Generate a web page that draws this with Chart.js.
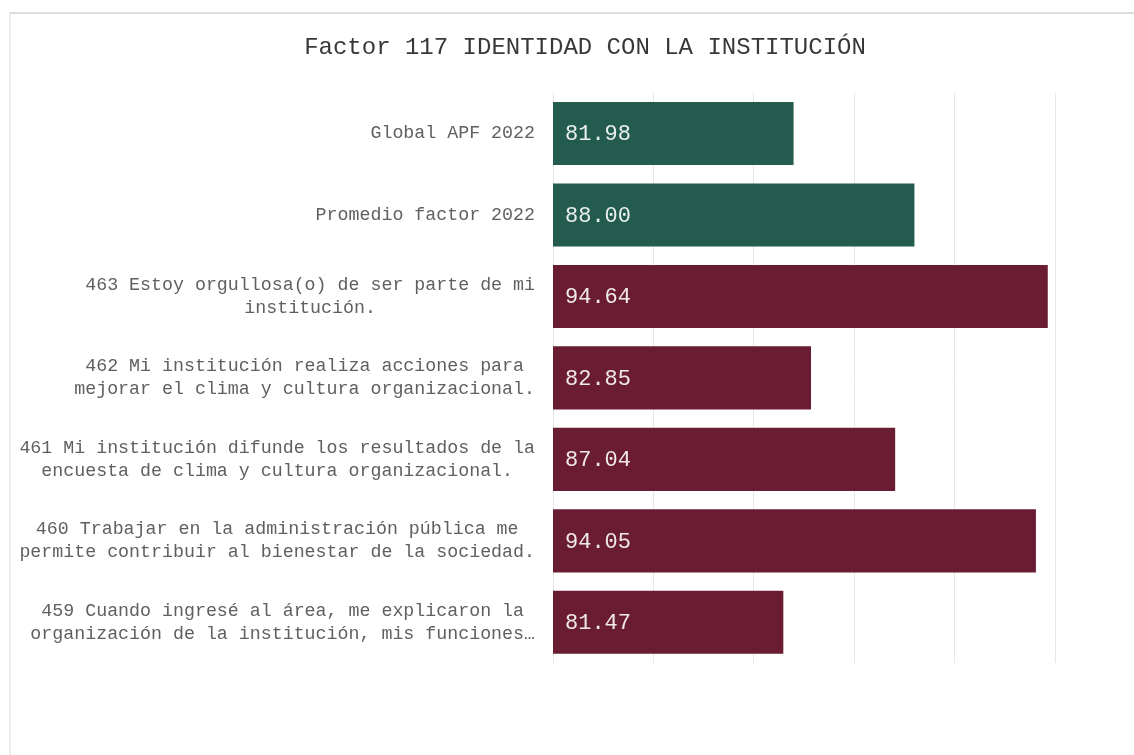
<!DOCTYPE html>
<html>
<head>
<meta charset="utf-8">
<script src="https://cdn.jsdelivr.net/npm/chart.js@4/dist/chart.umd.min.js"></script>
<style>
  body { margin: 0; background: #fff; }
  .marco { position: absolute; left: 9px; top: 12px; right: -4px; bottom: -4px;
           border-top: 2px solid #dcdcdc; border-left: 2px solid #eeeeee; }
  #grafica { position: absolute; left: 0; top: 0; }
</style>
</head>
<body>
<div class="marco"></div>
<canvas id="grafica" width="1134" height="755"></canvas>
<script>
const preguntas = [
  ['Global APF 2022'],
  ['Promedio factor 2022'],
  ['463 Estoy orgullosa(o) de ser parte de mi', 'institución.'],
  ['462 Mi institución realiza acciones para', 'mejorar el clima y cultura organizacional.'],
  ['461 Mi institución difunde los resultados de la', 'encuesta de clima y cultura organizacional.'],
  ['460 Trabajar en la administración pública me', 'permite contribuir al bienestar de la sociedad.'],
  ['459 Cuando ingresé al área, me explicaron la', 'organización de la institución, mis funciones…']
]
const puntajes = [81.98, 88.00, 94.64, 82.85, 87.04, 94.05, 81.47]
const colores = ['#235b4e', '#235b4e', '#691c32', '#691c32', '#691c32', '#691c32', '#691c32']
const escala = [70, 75, 80, 85, 90, 95]

const MONO = '"Courier New", "Liberation Mono", monospace'

// etiquetas del eje y: bloque alineado a la derecha, renglones centrados entre si
const etiquetasY = {
  id: 'etiquetasY',
  afterDraw(chart) {
    const ctx = chart.ctx
    const y = chart.scales.y
    const derecha = chart.chartArea.left - 18
    const alto = 23
    ctx.save()
    ctx.font = '18.3px ' + MONO
    ctx.fillStyle = '#606060'
    ctx.textAlign = 'center'
    ctx.textBaseline = 'middle'
    preguntas.forEach((lineas, i) => {
      const yc = y.getPixelForValue(i)
      const ancho = Math.max(...lineas.map(l => ctx.measureText(l).width))
      const cx = derecha - ancho / 2
      lineas.forEach((l, j) => {
        ctx.fillText(l, cx, yc + (j - (lineas.length - 1) / 2) * alto)
      })
    })
    ctx.restore()
  }
}

// valor dentro de cada barra, junto a la base
const valores = {
  id: 'valores',
  afterDraw(chart) {
    const ctx = chart.ctx
    const x = chart.scales.x
    const y = chart.scales.y
    const base = x.getPixelForValue(x.min)
    ctx.save()
    ctx.font = '22px ' + MONO
    ctx.fillStyle = 'rgba(255,255,255,0.9)'
    ctx.textAlign = 'left'
    ctx.textBaseline = 'middle'
    puntajes.forEach((v, i) => {
      ctx.fillText(v.toFixed(2), base + 12, y.getPixelForValue(i) + 1)
    })
    ctx.restore()
  }
}

new Chart(document.getElementById('grafica'), {
  type: 'bar',
  data: {
    labels: preguntas.map(p => p.join(' ')),
    datasets: [{
      data: puntajes,
      backgroundColor: colores,
      barPercentage: 0.775,
      categoryPercentage: 1
    }]
  },
  options: {
    indexAxis: 'y',
    responsive: false,
    animation: false,
    layout: { padding: { left: 115, right: 79, top: 0, bottom: 0 } },
    plugins: {
      legend: { display: false },
      tooltip: { enabled: false },
      title: {
        display: true,
        text: 'Factor 117 IDENTIDAD CON LA INSTITUCIÓN',
        color: '#383838',
        font: { family: MONO, size: 24, weight: 'normal' },
        padding: { top: 33, bottom: 31 }
      }
    },
    scales: {
      x: {
        min: 70,
        max: 95,
        afterBuildTicks: s => { s.ticks = escala.map(v => ({ value: v })) },
        ticks: { display: false },
        grid: { color: '#e6e6e6', drawTicks: false },
        border: { display: false },
        afterFit: s => { s.height = 92 }
      },
      y: {
        ticks: { display: false },
        grid: { display: false },
        border: { display: false },
        afterFit: s => { s.width = 438 }
      }
    }
  },
  plugins: [etiquetasY, valores]
})
</script>
</body>
</html>
